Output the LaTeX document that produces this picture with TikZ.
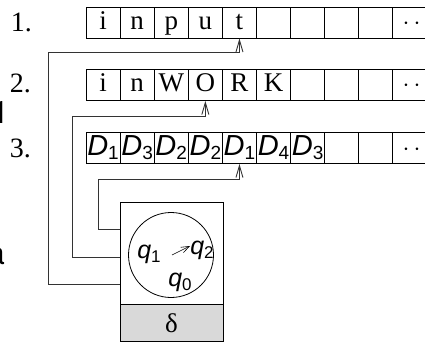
\documentclass[tikz,border=0pt]{standalone}
\usepackage{fontspec}
\setmainfont{Liberation Serif}
\setsansfont{Liberation Sans}
\newfontfamily\helvfont{TeX Gyre Heros}
\usetikzlibrary{arrows.meta,positioning}

\newcommand{\Dsym}[1]{{\sffamily\itshape D\/}\raisebox{-4pt}{\sffamily\fontsize{19}{19}\selectfont #1}}
\newcommand{\qsym}[1]{{\sffamily\itshape q\/}\raisebox{-4pt}{\sffamily\fontsize{17}{17}\selectfont #1}}
\newcommand{\tapedots}{\makebox[0pt][l]{\hspace*{-7.4pt}$\cdots$}}

\tikzset{
  cell/.style={draw, line width=0.9pt, minimum width=34.1pt, minimum height=31pt,
    inner sep=0pt, text height=18pt, text depth=4pt, font=\fontsize{27}{29}\selectfont},
  dcell/.style={cell, font=\fontsize{29}{31}\selectfont},
  rowlabel/.style={anchor=base east, inner sep=0pt, font=\fontsize{28}{30}\selectfont},
  fragment/.style={anchor=base east, inner sep=0pt, font=\helvfont\fontsize{31}{33}\selectfont},
  statelabel/.style={inner sep=0pt, font=\fontsize{25}{27}\selectfont},
  head/.style={-{Straight Barb[length=12pt,width=7pt]}, line width=0.9pt, black!80},
}

\begin{document}
\begin{tikzpicture}[x=1pt,y=-1pt]
\useasboundingbox (0,0) rectangle (425,342);
% Tapes
\foreach \i/\s in {1/i,2/n,3/p,4/u,5/t,6/,7/,8/,9/,10/\tapedots}
  \node[cell] (a\i) at ({86+34.1*(\i-0.5)},22.5) {\s};
\foreach \i/\s in {1/i,2/n,3/W,4/O,5/R,6/K,7/,8/,9/,10/\tapedots}
  \node[cell] (b\i) at ({86+34.1*(\i-0.5)},85) {\s};
\foreach \i/\s in {1/\Dsym{1},2/\Dsym{3},3/\Dsym{2},4/\Dsym{2},5/\Dsym{1},6/\Dsym{4},7/\Dsym{3},8/,9/,10/\tapedots}
  \node[dcell] (c\i) at ({86+34.1*(\i-0.5)},148) {\s};
% Row numbers
\node[rowlabel] (n1) at (32,32) {1.};
\node[rowlabel] (n2) at (31,93) {2.};
\node[rowlabel] (n3) at (31,157) {3.};
\node[fragment] (frag1) at (9,123) {1};
\node[fragment] (fraga) at (5,264) {a};
% Control unit
\node[draw, line width=0.9pt, minimum width=103pt, minimum height=102pt, inner sep=0pt] (ctrl) at (171.5,253) {};
\node[draw, line width=0.9pt, fill=gray!30, minimum width=103pt, minimum height=37pt, inner sep=0pt,
  below=0pt of ctrl, font=\fontsize{27}{29}\selectfont] (delta) {δ};
\node[draw, circle, line width=0.8pt, minimum size=85pt, inner sep=0pt] (states) at (171,255) {};
\node[statelabel] (q1) at (149,254) {\qsym{1}};
\node[statelabel] (q2) at (202,250) {\qsym{2}};
\node[statelabel] (q0) at (180,282) {\qsym{0}};
\coordinate (qa) at (172,255);
\coordinate (qb) at (190,246);
\draw[-{Straight Barb[length=8pt,width=6pt]}, line width=0.6pt] (qa) -- (qb);
% Heads
\draw[head] (ctrl.west |- 0,284) -| (48,52) -| (a5.south);
\draw[head] (ctrl.west |- 0,257) -| (72,116) -| (b4.south);
\draw[head] (ctrl.west |- 0,229) -| (98,179) -| (c5.south);
\end{tikzpicture}
\end{document}
